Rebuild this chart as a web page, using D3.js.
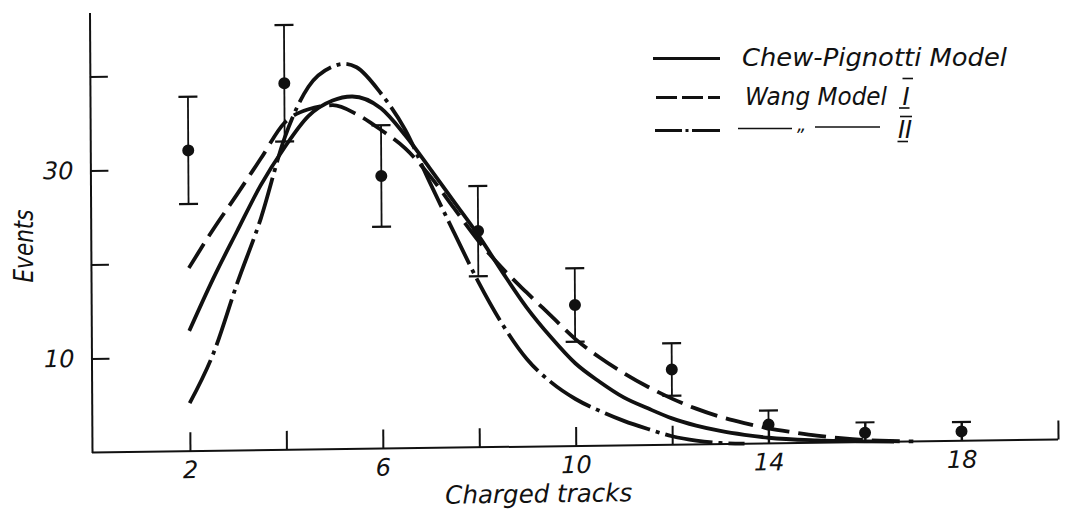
<!DOCTYPE html>
<html>
<head>
<meta charset="utf-8">
<script src="https://cdn.jsdelivr.net/npm/d3@7"></script>
<style>
  html, body { margin: 0; padding: 0; background: #fff; }
  svg { display: block; }
  text { font-family: "DejaVu Sans", sans-serif; font-style: italic; fill: #111; }
</style>
</head>
<body>
<svg id="chart" width="1065" height="514"></svg>
<script>
// Measured charged-track multiplicity distribution
const tracks  = [2, 4, 6, 8, 10, 12, 14, 16, 18];
const events  = [32, 39, 29, 23, 15, 8, 2, 1, 1];
const errUp   = [5.7, 6.2, 5.4, 4.8, 3.9, 2.8, 1.5, 1.1, 1.0];
const errDown = [5.7, 6.2, 5.4, 4.8, 3.9, 2.8, 2.0, 1.0, 1.0];

// Chew-Pignotti model prediction
const chewX = [2, 2.5, 3, 3.5, 4, 4.5, 5, 5.4, 6, 6.5, 7, 7.5, 8, 8.5, 9, 9.5, 10, 10.5, 11, 11.5, 12, 12.5, 13, 13.5, 14, 15, 16, 16.6];
const chewY = [12.8, 18.3, 23.3, 28.2, 32.2, 35.5, 37.1, 37.5, 36.2, 33.3, 29.8, 26.2, 22.6, 18.6, 14.8, 11.6, 8.8, 6.8, 5.1, 3.9, 2.8, 2.0, 1.4, 0.95, 0.6, 0.25, 0.08, 0];

// Wang model I
const wang1X = [2, 2.5, 3, 3.5, 4, 4.5, 5, 5.5, 6, 6.5, 7, 7.5, 8, 8.5, 9, 9.5, 10, 10.5, 11, 11.5, 12, 12.5, 13, 13.5, 14, 14.5, 15, 15.5, 16, 16.5, 17];
const wang1Y = [19.5, 23.5, 27.2, 31.0, 34.8, 36.2, 36.6, 35.6, 33.9, 31.9, 29.0, 25.5, 22.0, 19.0, 16.4, 13.9, 11.4, 9.4, 7.7, 6.2, 4.9, 3.8, 2.9, 2.2, 1.6, 1.15, 0.75, 0.45, 0.22, 0.08, 0];

// Wang model II
const wang2X = [2, 2.5, 3, 3.5, 4, 4.5, 5, 5.25, 5.5, 6, 6.5, 7, 7.5, 8, 8.5, 9, 9.5, 10, 10.5, 11, 11.5, 12, 12.5, 13, 13.5];
const wang2Y = [5.1, 10.4, 17.8, 24.7, 33.2, 38.6, 40.7, 41.0, 40.6, 37.8, 33.9, 28.3, 22.9, 17.6, 13.0, 9.3, 6.8, 5.0, 3.7, 2.6, 1.7, 0.9, 0.4, 0.12, 0];

// Axis ticks
const xTicks = [2, 4, 6, 8, 10, 12, 14, 16, 18, 20];
const xTickLabels = [2, 6, 10, 14, 18];
const yTicks = [10, 20, 30, 40];
const yTickLabels = [10, 30];

// Legend entries
const legendLabels = ["Chew-Pignotti Model", "Wang Model", "II"];

const svg = d3.select("#chart");
const ink = "#111";

const x = d3.scaleLinear().domain([0, 20]).range([93.5, 1058]);
const y = d3.scaleLinear().domain([0, 46.8]).range([452.5, 12.6]);

// plot frame, slightly sheared like a drawing on paper
const plot = svg.append("g")
  .attr("transform", "translate(92,452) matrix(1,-0.01346,0.0057,1,0,0) translate(-92,-452)");

// x axis
const xAxis = d3.axisBottom(x)
  .tickValues(xTicks)
  .tickSizeInner(-19)
  .tickSizeOuter(0)
  .tickPadding(10)
  .tickFormat(d => xTickLabels.includes(d) ? d : "");
const gx = plot.append("g").attr("transform", `translate(0,${y(0)})`).call(xAxis);
gx.select(".domain").attr("d", `M92,0H${x(20)}`);

// y axis
const yAxis = d3.axisLeft(y)
  .tickValues(yTicks)
  .tickSizeInner(-18)
  .tickSizeOuter(0)
  .tickPadding(17)
  .tickFormat(d => yTickLabels.includes(d) ? d : "");
const gy = plot.append("g").attr("transform", "translate(92,0)").call(yAxis);

[gx, gy].forEach(g => {
  g.selectAll(".domain, line").attr("stroke", ink).attr("stroke-width", 2);
  g.selectAll("text").attr("font-size", 24).attr("fill", ink)
    .style("font-family", '"DejaVu Sans", sans-serif').style("font-style", "italic");
});

// model curves
const line = d3.line().x(d => x(d[0])).y(d => y(d[1])).curve(d3.curveMonotoneX);
const curves = [
  { xs: chewX, ys: chewY, dash: null },
  { xs: wang1X, ys: wang1Y, dash: "28,9" },
  { xs: wang2X, ys: wang2Y, dash: "48,6,4,6" }
];
curves.forEach(c => {
  plot.append("path")
    .attr("d", line(c.xs.map((v, i) => [v, c.ys[i]])))
    .attr("fill", "none")
    .attr("stroke", ink)
    .attr("stroke-width", 3.8)
    .attr("stroke-dasharray", c.dash);
});

// measured points with error bars
const data = tracks.map((t, i) => ({ t, v: events[i], hi: events[i] + errUp[i], lo: Math.max(0, events[i] - errDown[i]) }));
const bars = plot.append("g").attr("stroke", ink).attr("stroke-width", 1.8);
data.forEach(d => {
  bars.append("line").attr("x1", x(d.t)).attr("x2", x(d.t)).attr("y1", y(d.hi)).attr("y2", y(d.lo));
  bars.append("line").attr("x1", x(d.t) - 9.5).attr("x2", x(d.t) + 9.5).attr("y1", y(d.hi)).attr("y2", y(d.hi)).attr("stroke-width", 2.2);
  if (d.lo > 0) {
    bars.append("line").attr("x1", x(d.t) - 9.5).attr("x2", x(d.t) + 9.5).attr("y1", y(d.lo)).attr("y2", y(d.lo)).attr("stroke-width", 2.2);
  }
});
plot.append("g").selectAll("circle").data(data).join("circle")
  .attr("cx", d => x(d.t)).attr("cy", d => y(d.v)).attr("r", 6).attr("fill", ink);

// axis titles
plot.append("text")
  .attr("x", 445).attr("y", 508.5)
  .attr("font-size", 25)
  .attr("textLength", 187).attr("lengthAdjust", "spacingAndGlyphs")
  .text("Charged tracks");

svg.append("text")
  .attr("transform", "translate(33,246) rotate(-90)")
  .attr("text-anchor", "middle")
  .attr("font-size", 26)
  .attr("textLength", 73).attr("lengthAdjust", "spacingAndGlyphs")
  .text("Events");

// legend
const leg = svg.append("g");
const legStroke = (x1, x2, yy, dash) => leg.append("line")
  .attr("x1", x1).attr("x2", x2).attr("y1", yy).attr("y2", yy)
  .attr("stroke", ink).attr("stroke-width", 3.2).attr("stroke-dasharray", dash);
const thin = (x1, x2, y1, y2) => leg.append("line")
  .attr("x1", x1).attr("x2", x2).attr("y1", y1).attr("y2", y2)
  .attr("stroke", ink).attr("stroke-width", 1.6);

legStroke(653, 720, 58.5, null);
legStroke(656, 720, 97.5, "21,5");
legStroke(655, 720, 130.5, "27,3.5,3,3.5,30");

leg.append("text").attr("x", 742).attr("y", 66).attr("font-size", 25)
  .attr("textLength", 265).attr("lengthAdjust", "spacingAndGlyphs").text(legendLabels[0]);
leg.append("text").attr("x", 745).attr("y", 105).attr("font-size", 25)
  .attr("textLength", 142).attr("lengthAdjust", "spacingAndGlyphs").text(legendLabels[1]);

// roman numeral I with bars
leg.append("text").attr("x", 906).attr("y", 105).attr("font-size", 24)
  .attr("text-anchor", "middle").text("I");
thin(902.5, 913, 78.5, 78.5);
thin(899, 909.5, 108, 108);

// ditto row for model II
thin(738, 792, 128.5, 128.5);
leg.append("text").attr("x", 797).attr("y", 131).attr("font-size", 18).text("\u201E");
thin(815, 880, 127, 127);
leg.append("text").attr("x", 905).attr("y", 138).attr("font-size", 24)
  .attr("text-anchor", "middle").text(legendLabels[2]);
thin(900, 912, 116.5, 116.5);
thin(897.5, 908, 141.5, 141.5);
</script>
</body>
</html>
